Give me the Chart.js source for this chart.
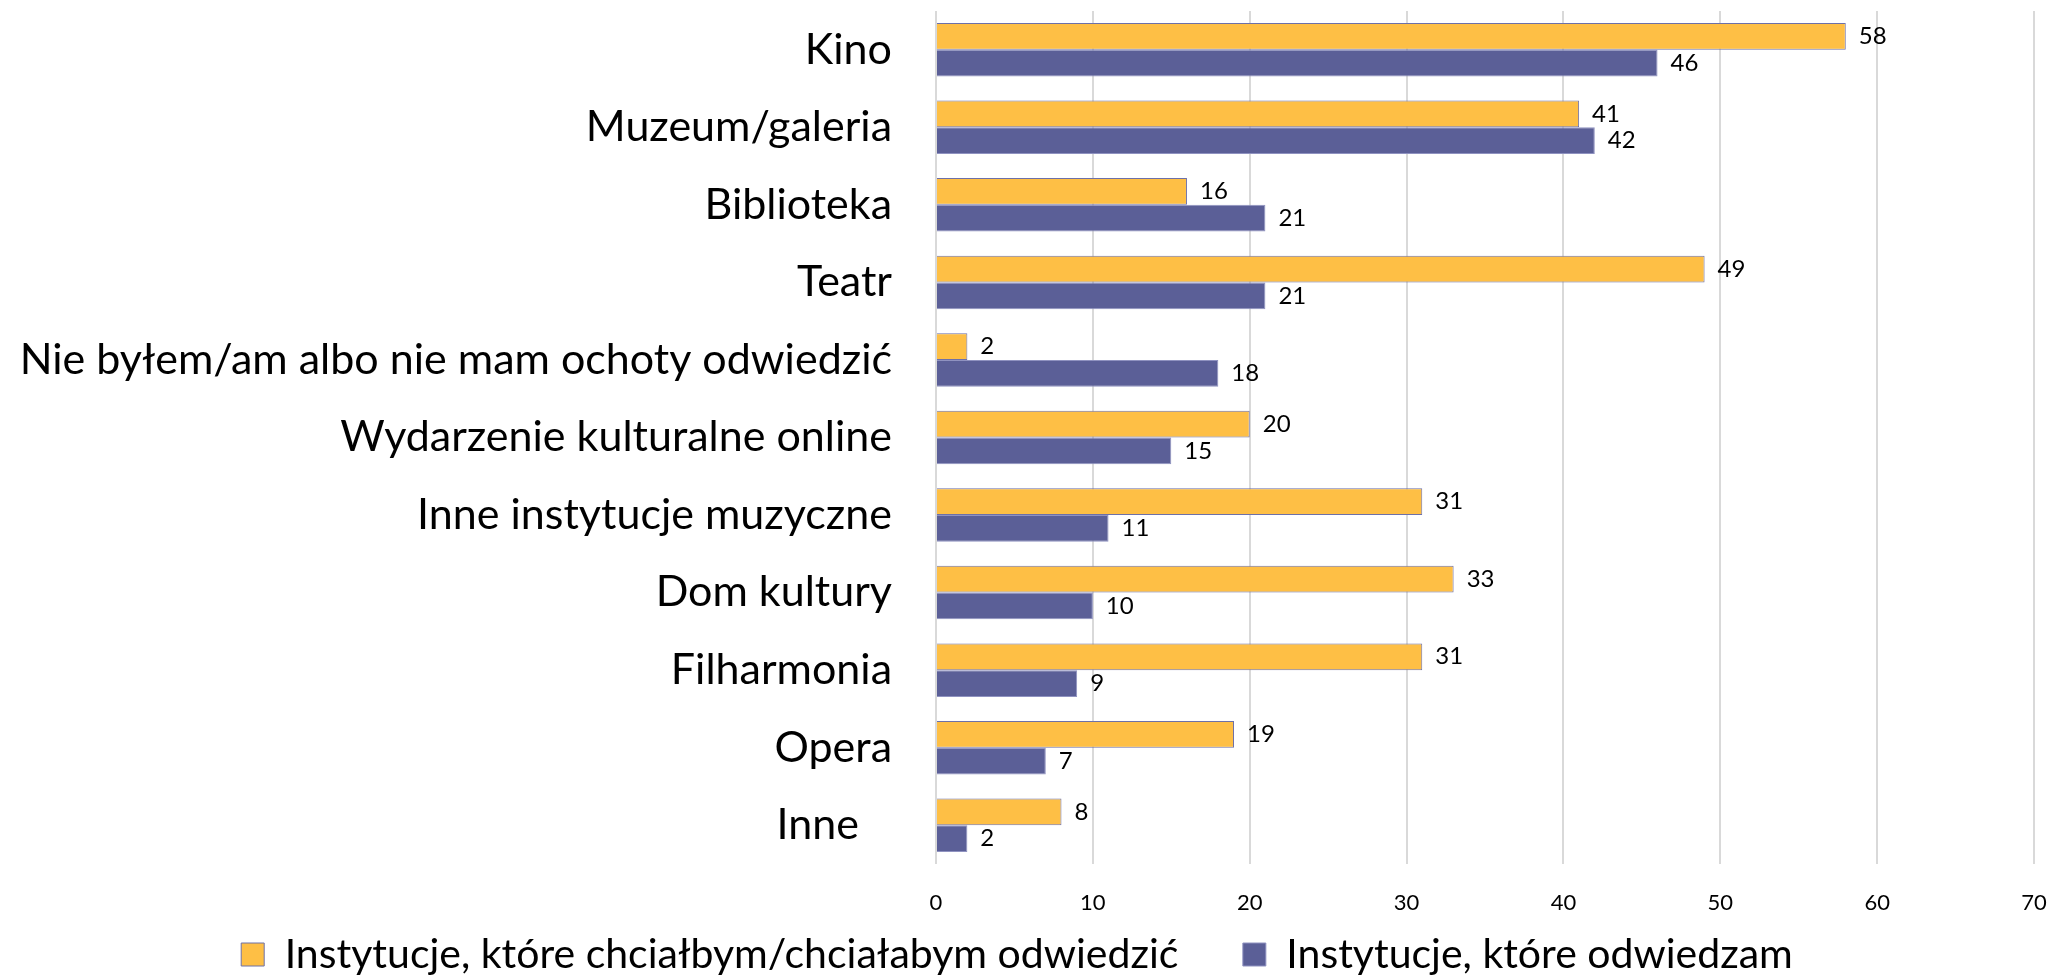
<!DOCTYPE html>
<html>
<head>
<meta charset="utf-8">
<script src="https://cdn.jsdelivr.net/npm/chart.js@4"></script>
<style>
  html, body { margin: 0; padding: 0; background: #fff; }
  #wrap { position: absolute; left: 0; top: 0; width: 2051px; height: 979px; }
</style>
</head>
<body>
<div id="wrap"><canvas id="chart"></canvas></div>
<script>
// categories, top to bottom
const categories = [
  'Kino',
  'Muzeum/galeria',
  'Biblioteka',
  'Teatr',
  'Nie byłem/am albo nie mam ochoty odwiedzić',
  'Wydarzenie kulturalne online',
  'Inne instytucje muzyczne',
  'Dom kultury',
  'Filharmonia',
  'Opera',
  'Inne   '
];
const wantToVisit = [58, 41, 16, 49, 2, 20, 31, 33, 31, 19, 8];
const doVisit = [46, 42, 21, 21, 18, 15, 11, 10, 9, 7, 2];
const seriesNames = ['Instytucje, które chciałbym/chciałabym odwiedzić', 'Instytucje, które odwiedzam'];
const xTicks = [0, 10, 20, 30, 40, 50, 60, 70];

const FONT = 'Lato, "Open Sans", sans-serif';

// draws the value at the end of each bar
const valueLabels = {
  id: 'valueLabels',
  afterDatasetsDraw(chart) {
    const ctx = chart.ctx;
    ctx.save();
    ctx.font = '24px ' + FONT;
    ctx.fillStyle = '#000';
    ctx.textAlign = 'left';
    ctx.textBaseline = 'middle';
    chart.data.datasets.forEach((ds, i) => {
      chart.getDatasetMeta(i).data.forEach((bar, j) => {
        ctx.fillText(ds.data[j], bar.x + 13, bar.y);
      });
    });
    ctx.restore();
  }
};

const ctx = document.getElementById('chart').getContext('2d');
const chart = new Chart(ctx, {
  type: 'bar',
  data: {
    labels: categories,
    datasets: [{
      label: seriesNames[0],
      data: wantToVisit,
      backgroundColor: '#FEBF45',
      borderColor: '#6D70A8',
      borderWidth: 1
    }, {
      label: seriesNames[1],
      data: doVisit,
      backgroundColor: '#5B5F97',
      borderColor: '#8F92C0',
      borderWidth: 1
    }]
  },
  options: {
    indexAxis: 'y',
    responsive: true,
    maintainAspectRatio: false,
    animation: false,
    layout: { padding: { top: 11, right: 17, left: 0, bottom: -6 } },
    datasets: {
      bar: { categoryPercentage: 0.69, barPercentage: 1 }
    },
    scales: {
      x: {
        min: 0,
        max: 70,
        afterBuildTicks: (scale) => { scale.ticks = xTicks.map(v => ({ value: v })); },
        afterFit: (scale) => {
          scale.height = 58;
          scale.paddingLeft = 0;
          scale.paddingRight = 0;
        },
        grid: { color: '#D9D9D9', lineWidth: 2, drawTicks: false },
        border: { display: false },
        ticks: { font: { size: 22, family: FONT }, color: '#000', padding: 26 }
      },
      y: {
        afterFit: (scale) => {
          scale.width = 936;
          scale.paddingTop = 0;
          scale.paddingBottom = 0;
        },
        grid: { display: false },
        border: { display: false },
        ticks: { font: { size: 43, family: FONT }, color: '#000', padding: 36 }
      }
    },
    plugins: {
      legend: {
        position: 'bottom',
        labels: {
          font: { size: 41, family: FONT },
          color: '#000',
          boxWidth: 23,
          boxHeight: 23,
          padding: 12,
          // extra room after the first entry, like the original legend
          generateLabels: (chart) => {
            const items = Chart.defaults.plugins.legend.labels.generateLabels(chart);
            items[0].text = items[0].text + '     ';
            return items;
          }
        }
      },
      tooltip: { enabled: false }
    }
  },
  plugins: [valueLabels]
});
</script>
</body>
</html>
